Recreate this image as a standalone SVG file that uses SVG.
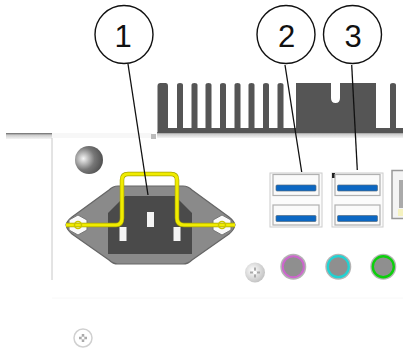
<svg xmlns="http://www.w3.org/2000/svg" width="403" height="352" viewBox="0 0 403 352">
<style>
.callout{fill:#fff;stroke:#111;stroke-width:1.4}
.num{font-family:"Liberation Sans",Arial,sans-serif;font-size:31px;fill:#111;text-anchor:middle}
.leader{stroke:#111;stroke-width:1.3;fill:none}
.fin{fill:#555}
.usb{fill:#fafafa;stroke:#b0b0b0;stroke-width:1.2}
.bar{fill:#0a66c2;stroke:#556b80;stroke-width:.7}
.jack{fill:#8f8f8f}
.rim{fill:#b4b4b4}
.pin{fill:#f4f4f4}
</style>
<defs>
<radialGradient id="ball" cx=".3" cy=".45" r=".8"><stop offset="0" stop-color="#f5f5f5"/><stop offset=".5" stop-color="#777"/><stop offset="1" stop-color="#444"/></radialGradient>
<linearGradient id="band" x1="0" y1="0" x2="0" y2="1"><stop offset="0" stop-color="#666"/><stop offset=".35" stop-color="#ccc"/><stop offset="1" stop-color="#f4f4f4"/></linearGradient>
<radialGradient id="screw" cx=".4" cy=".4" r=".7"><stop offset="0" stop-color="#fff"/><stop offset="1" stop-color="#bbb"/></radialGradient>
</defs>
<rect width="403" height="352" fill="#fff"/>
<g id="chassis">
<rect x="6" y="133" width="46" height="6" fill="url(#band)"/>
<rect x="52" y="133" width="100" height="5" fill="#f7f7f7"/>
<rect x="157" y="132" width="246" height="6" fill="url(#band)"/>
<rect x="151" y="134" width="5" height="5" fill="#bbb"/>
<path d="M52 138V280" stroke="#c8c8c8" stroke-width="1" fill="none"/>
<path d="M52 298H403" stroke="#f8f8f8" stroke-width="1" fill="none"/>
</g>
<g id="heatsink">
<path class="fin" d="M157.500 133V86q0-3 3-3h5q2.500 0 2.500 3V128H177V85q0-2 3-2t3 2V128H191.500V85q0-2 3-2t3 2V128H205.500V85q0-2 3-2t3 2V128H220V85q0-2 3-2t3 2V128H234.500V85q0-2 3-2t3 2V128H248.500V85q0-2 3-2t3 2V128H263V85q0-2 3-2t3 2V128H277.500V85q0-2 3-2t3 2V128H296V83H331V98q0 5 4.500 5t4.500-5V83H376V128H390V85q0-2 3-2t3 2V128H403V133Z"/>
</g>
<g id="ball-screw"><circle cx="89" cy="160" r="14" fill="url(#ball)"/></g>
<g id="power-inlet">
<path d="M66 225Q67 221 72 217L109 190Q113 186 118 186H183Q188 186 192 190L229 217Q234 221 235 225Q234 230 229 234L192 260Q188 264 183 264H118Q113 264 109 260L72 234Q67 230 66 225Z" fill="#8a8a8a" stroke="#666" stroke-width="1.200"/>
<path d="M125 196H175L192 213V254H108V213Z" fill="#4a4a4a"/>
<rect class="pin" x="147" y="212" width="7" height="15"/>
<rect class="pin" x="119.500" y="227" width="7" height="14"/>
<rect class="pin" x="173.500" y="227" width="7" height="14"/>
<polygon points="78,215 87,220 87,230 78,235 69,230 69,220" fill="#fafafa" stroke="#777" stroke-width="1"/>
<polygon points="222,215 231,220 231,230 222,235 213,230 213,220" fill="#fafafa" stroke="#777" stroke-width="1"/>
<path d="M66 225H116Q122 225 122 218V180Q122 174 128 174H171Q177 174 177 180V218Q177 225 184 225H235" fill="none" stroke="#a8a400" stroke-width="4.500"/>
<path d="M66 225H116Q122 225 122 218V180Q122 174 128 174H171Q177 174 177 180V218Q177 225 184 225H235" fill="none" stroke="#f0ec00" stroke-width="3.200"/>
<circle cx="78" cy="225" r="3.500" fill="none" stroke="#c9c400" stroke-width="1.500"/>
<circle cx="222" cy="225" r="3.500" fill="none" stroke="#c9c400" stroke-width="1.500"/>
</g>
<g id="usb-left">
<rect x="270" y="173" width="52" height="54" fill="#fbfbfb" stroke="#ccc" stroke-width="1"/>
<rect class="usb" x="273" y="174.500" width="46" height="21"/>
<rect class="usb" x="273" y="205" width="46" height="20"/>
<rect class="bar" x="276" y="185" width="40" height="6" rx="1"/>
<rect class="bar" x="276" y="215.500" width="40" height="6" rx="1"/>
</g>
<g id="usb-right">
<rect x="332" y="173" width="51" height="54" fill="#fbfbfb" stroke="#ccc" stroke-width="1"/>
<rect x="332" y="173" width="3" height="5" fill="#222"/>
<rect class="usb" x="335" y="174.500" width="45" height="21"/>
<rect class="usb" x="335" y="205" width="45" height="20"/>
<rect class="bar" x="337.500" y="185" width="40" height="6" rx="1"/>
<rect class="bar" x="337.500" y="215.500" width="40" height="6" rx="1"/>
</g>
<g id="port-edge">
<rect x="392" y="170.500" width="12" height="48" fill="#f4f4f4" stroke="#999" stroke-width="1.500"/>
<rect x="399" y="180" width="4" height="28" fill="#aaa"/>
<rect x="398" y="209" width="5" height="7" fill="#f5f2c0"/>
</g>
<g id="jacks">
<circle class="rim" cx="293.300" cy="266.700" r="13"/>
<circle class="jack" cx="293.300" cy="266.700" r="10.500" stroke="#cc66cc" stroke-width="2"/>
<circle class="rim" cx="338.300" cy="266.700" r="13"/>
<circle class="jack" cx="338.300" cy="266.700" r="10.500" stroke="#22d3d3" stroke-width="2.200"/>
<circle class="rim" cx="383.300" cy="266.700" r="13"/>
<circle class="jack" cx="383.300" cy="266.700" r="10.500" stroke="#0ccf0c" stroke-width="2.400"/>
</g>
<g id="screw-1">
<circle cx="255" cy="272.500" r="10" fill="url(#screw)"/>
<path d="M255 267.500v10M250 272.500h10" stroke="#aaa" stroke-width="2"/>
<circle cx="255" cy="272.500" r="2" fill="#fff"/>
</g>
<g id="screw-2">
<circle cx="83" cy="338" r="9" fill="#fff" stroke="#d0d0d0" stroke-width="1.500"/>
<path d="M83 334v8M79 338h8" stroke="#aaa" stroke-width="2.500"/>
<circle cx="83" cy="338" r="1.500" fill="#fff"/>
</g>
<g id="connectors">
<path class="leader" d="M128 64L148 195"/>
<path class="leader" d="M285 65L301.700 172"/>
<path class="leader" d="M351.700 65L357.300 170"/>
</g>
<g id="callout-1"><circle class="callout" cx="124" cy="34.500" r="29"/><text class="num" x="123" y="47">1</text></g>
<g id="callout-2"><circle class="callout" cx="286" cy="34.500" r="29"/><text class="num" x="286.500" y="47">2</text></g>
<g id="callout-3"><circle class="callout" cx="352.500" cy="34.500" r="29"/><text class="num" x="353" y="47">3</text></g>
</svg>
